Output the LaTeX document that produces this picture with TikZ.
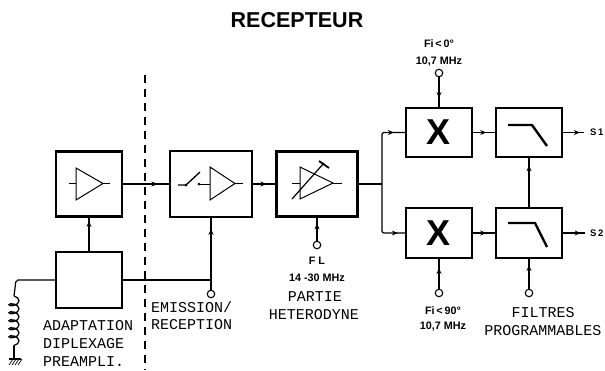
\documentclass[tikz,border=0pt]{standalone}
\usepackage{fontspec}
\setmainfont{Liberation Sans}
\newfontfamily\slabfont{Liberation Mono}
\usetikzlibrary{arrows.meta,decorations.markings,decorations.pathmorphing}
\tikzset{
  block/.style={draw,line width=2.1pt,inner sep=0pt,minimum width=#1},
  block/.default=66pt,
  wire/.style={line width=1.2pt},
  sym/.style={line width=1pt},
  arr/.style={postaction={decorate},decoration={markings,mark=at position #1 with {\arrow{Stealth[length=6pt,width=5pt]}}}},
  term/.style={circle,draw,line width=1.1pt,fill=white,inner sep=0pt,minimum size=7.5pt},
  captxt/.style={font=\slabfont\fontsize{15}{15}\selectfont,inner sep=0pt},
  small/.style={font=\bfseries\fontsize{10.8}{11}\selectfont,inner sep=0pt},
  filtcurve/.style={line width=2.4pt,line join=round},
}
\begin{document}
\begin{tikzpicture}[x=1pt,y=-1pt]
\useasboundingbox (0,0) rectangle (605,370);
\node[font=\bfseries\fontsize{21.5}{22}\selectfont,inner sep=0pt] (title) at (297,20) {RECEPTEUR};
% blocks
\node[block=66pt,minimum height=65pt] (amp) at (89,184) {};
\node[block=66pt,minimum height=56pt] (adapt) at (89,280) {};
\node[block=82pt,minimum height=66pt] (sw) at (211,184) {};
\node[block=81pt,minimum height=65pt] (het) at (317,184) {};
\node[block=66pt,minimum height=49pt,font=\bfseries\fontsize{36}{36}\selectfont] (x1) at (439,132.5) {X};
\node[block=66pt,minimum height=49pt] (f1) at (529,132.5) {};
\node[block=66pt,minimum height=50pt,font=\bfseries\fontsize{36}{36}\selectfont] (x2) at (439,233) {X};
\node[block=66pt,minimum height=50pt] (f2) at (529,233) {};
% terminals
\node[term] (tsw) at (211,294) {};
\node[term] (thet) at (317,245) {};
\node[term] (tx1) at (439,73) {};
\node[term] (tx2) at (439,293) {};
\node[term] (tf2) at (529,293) {};
\coordinate (split) at (382,184);
\coordinate (swj) at (211,280);
\coordinate (s1end) at (584,132.5);
\coordinate (s2end) at (585,233);
% dashed separator
\draw[line width=1.7pt,dash pattern=on 8pt off 6pt] (145,75) -- (145,370);
% connectors
\draw[wire,arr=0.75] (amp.east) -- (sw.west);
\draw[wire,arr=0.6] (sw.east) -- (het.west);
\draw[wire,line width=1.5pt,arr=0.9] (adapt.north) -- (amp.south);
\draw[wire] (adapt.east) -- (swj);
\draw[wire,line width=1.4pt,arr=0.85] (tsw.north) -- (swj) -- (sw.south);
\draw[wire,line width=1.4pt,arr=0.75] (thet.north) -- (het.south);
\draw[wire] (het.east) -- (split);
\draw[wire,arr=0.85,rounded corners=2pt] (split) |- (x1.west);
\draw[wire,arr=0.9,rounded corners=2pt] (split) |- (x2.west);
\draw[wire,line width=1.4pt,arr=0.7] (tx1.south) -- (x1.north);
\draw[wire,line width=1.4pt,arr=0.7] (tx2.north) -- (x2.south);
\draw[wire,arr=0.6] (x1.east) -- (f1.west);
\draw[wire,arr=0.6] (x2.east) -- (f2.west);
\draw[wire,line width=1.4pt,arr=0.8] (tf2.north) -- (f2.south);
\draw[wire,line width=1.4pt,arr=0.85] (f2.north) -- (f1.south);
\draw[wire,arr=0.8] (f1.east) -- (s1end);
\draw[wire,arr=0.8] (f2.east) -- (s2end);
% antenna coil
\coordinate (coiltop) at (14,296);
\coordinate (coilbot) at (14,346);
\coordinate (gnd) at (14,359);
\draw[wire,rounded corners=2pt] (adapt.west) -- (16,280) -- (coiltop);
\draw[line width=1.3pt,decorate,decoration={coil,aspect=0.55,segment length=8pt,amplitude=5pt}] (coiltop) -- (coilbot);
\draw[wire] (coilbot) -- (gnd);
\draw[line width=1.6pt] (9,359) -- (21,359);
\foreach \i in {0,3,6,9}{\draw[line width=.7pt] (9+\i,365) -- (13+\i,359);}
% amp symbols
\draw[sym] (76,168) -- (76,200) -- (103,183.5) -- cycle;
\draw[sym] (69,183.5) -- (76,183.5) (103,183.5) -- (110,183.5);
\draw[sym,line width=1.3pt] (178,185) -- (186,185) -- (200,172);
\fill (186,185) circle (1.5pt) (199,184) circle (1.5pt);
\draw[sym] (199,184) -- (210,184);
\draw[sym] (210,167) -- (210,200) -- (235,183.5) -- cycle;
\draw[sym] (235,183.5) -- (243,183.5);
\draw[sym] (300,167) -- (300,199) -- (333,183) -- cycle;
\draw[sym] (292,183) -- (300,183) (333,183) -- (342,183);
\draw[sym,line width=1.2pt] (292,199) -- (324,163);
\draw[line width=1.8pt] (319,161) -- (329,168);
% filter curves
\draw[filtcurve] (508,125) -- (532,125) -- (547,146);
\draw[filtcurve] (508,223) -- (535,223) -- (547,247);
% labels
\node[small] (l1) at (439,44) {Fi\,<\,0\textdegree};
\node[small] (l2) at (439,62) {10,7 MHz};
\node[small] (l3) at (317,261) {F L};
\node[small] (l4) at (317,278) {14 -30 MHz};
\node[small] (l5) at (443,311) {Fi\,<\,90\textdegree};
\node[small] (l6) at (443,327) {10,7 MHz};
\node[small,font=\bfseries\fontsize{9.5}{10}\selectfont,anchor=west] (s1) at (590,132.5) {S\,1};
\node[small,font=\bfseries\fontsize{9.5}{10}\selectfont,anchor=west] (s2) at (590,233) {S\,2};
\node[captxt] (c1) at (315,297) {PARTIE};
\node[captxt] (c2) at (314,315) {HETERODYNE};
\node[captxt] (c3) at (543,313) {FILTRES};
\node[captxt] (c4) at (543,331) {PROGRAMMABLES};
\node[captxt,anchor=west] (c5) at (43,326) {ADAPTATION};
\node[captxt,anchor=west] (c6) at (43,344) {DIPLEXAGE};
\node[captxt,anchor=west] (c7) at (43,362) {PREAMPLI.};
\node[captxt,anchor=west] (c8) at (151,307) {EMISSION/};
\node[captxt,anchor=west] (c9) at (151,325) {RECEPTION};
\end{tikzpicture}
\end{document}
